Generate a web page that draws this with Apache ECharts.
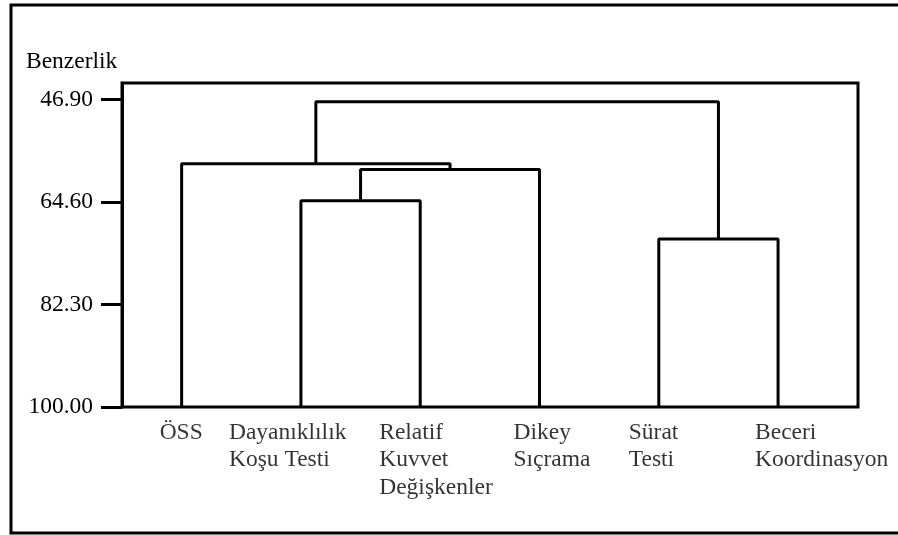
<!DOCTYPE html>
<html>
<head>
<meta charset="utf-8">
<script src="https://cdn.jsdelivr.net/npm/echarts@6/dist/echarts.min.js"></script>
<style>
  html, body { margin: 0; background: #fff; }
  #chart { width: 898px; height: 535px; }
</style>
</head>
<body>
<div id="chart"></div>
<script>
  // leaves in dendrogram order
  const leaves = ["ÖSS", "Dayanıklılık\nKoşu Testi", "Relatif\nKuvvet\nDeğişkenler", "Dikey\nSıçrama", "Sürat\nTesti", "Beceri\nKoordinasyon"];
  // merges: [node a, node b, benzerlik] — nodes 0..5 are leaves, 6.. are the merges below in order
  const merges = [[1, 2, 64.4], [6, 3, 59.0], [0, 7, 58.0], [4, 5, 71.0], [8, 9, 47.3]];
  const yTicks = [46.9, 64.6, 82.3, 100];
  const baseLevel = 100;
  // label x shift (px) — labels are left aligned, not centred on the leaf
  const labelShift = [-22, -72, -41, -26, -30, -23];

  const FONT = "'Liberation Serif', 'Times New Roman', serif";
  const FS = 23.5;

  const nodeX = leaves.map((_, i) => i + 1);
  const nodeY = leaves.map(() => baseLevel);
  const links = merges.map(([a, b, h]) => {
    nodeX.push((nodeX[a] + nodeX[b]) / 2);
    nodeY.push(h);
    return [[nodeX[a], nodeY[a]], [nodeX[a], h], [nodeX[b], h], [nodeX[b], nodeY[b]]];
  });

  const chart = echarts.init(document.getElementById("chart"), null, { renderer: "canvas" });
  chart.setOption({
    animation: false,
    backgroundColor: "#fff",
    textStyle: { fontFamily: FONT },
    title: {
      text: "Benzerlik", left: 21, top: 45,
      textStyle: { fontFamily: FONT, fontSize: FS, fontWeight: "normal", color: "#000" },
    },
    graphic: [{
      type: "rect", silent: true,
      shape: { x: 11, y: 5, width: 940, height: 528 },
      style: { fill: "none", stroke: "#000", lineWidth: 3 },
    }],
    grid: { left: 122, right: 40, top: 83, bottom: 128, show: true, borderColor: "#000", borderWidth: 3 },
    xAxis: {
      type: "value", min: 0.5, max: 6.67,
      axisLine: { show: false }, axisTick: { show: false }, axisLabel: { show: false }, splitLine: { show: false },
    },
    yAxis: {
      type: "value", inverse: true, min: 44.05, max: 100,
      axisLine: { show: true, lineStyle: { color: "#000", width: 3 } },
      axisTick: { show: true, customValues: yTicks, length: 21, lineStyle: { color: "#000", width: 3 } },
      axisLabel: {
        customValues: yTicks, formatter: (v) => v.toFixed(2), margin: 29,
        color: "#000", fontSize: FS, fontFamily: FONT,
      },
      splitLine: { show: false },
    },
    series: links.map((d) => ({
      type: "line", data: d, symbol: "none", silent: true,
      lineStyle: { color: "#000", width: 3 },
    })).concat([{
      type: "scatter", symbolSize: 0, silent: true,
      data: leaves.map((t, i) => ({ value: [i + 1, baseLevel], label: { offset: [labelShift[i], 0] } })),
      label: {
        show: true, position: "bottom", distance: 12, align: "left", verticalAlign: "top",
        formatter: (p) => leaves[p.dataIndex],
        color: "#000", fontSize: FS, lineHeight: 27.5, fontFamily: FONT,
      },
    }]),
  });
</script>
</body>
</html>
